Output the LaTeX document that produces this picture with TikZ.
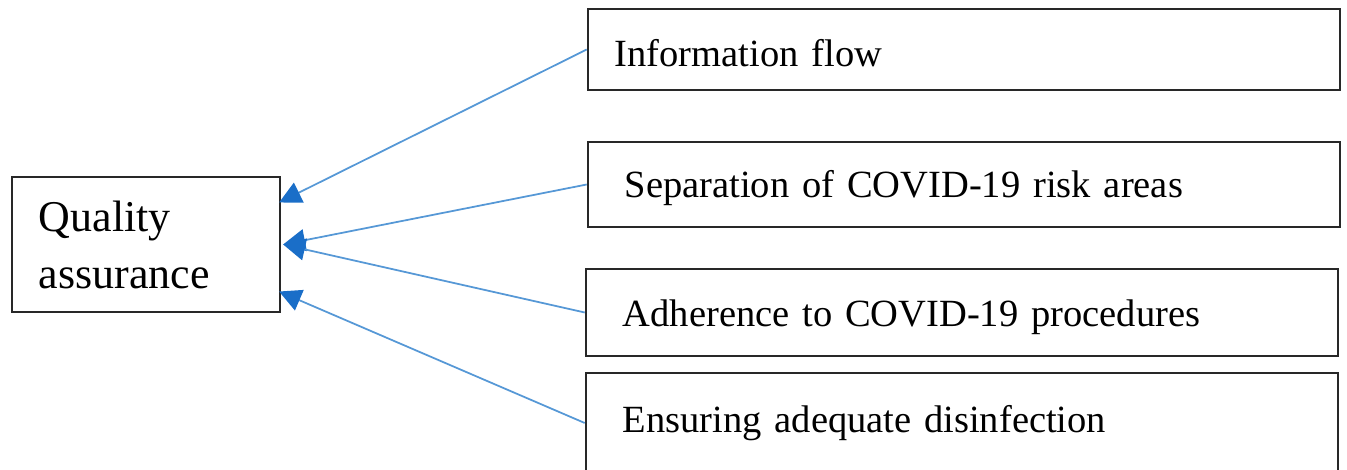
\documentclass[tikz,border=0pt]{standalone}
\usepackage{fontspec}
\setmainfont{Liberation Serif}
\usetikzlibrary{arrows.meta, calc}
\definecolor{linkblue}{RGB}{86,152,214}
\definecolor{tipblue}{RGB}{26,110,200}
\definecolor{boxgray}{RGB}{40,40,40}

\begin{document}
\begin{tikzpicture}[x=0.01cm, y=0.01cm,
    factor/.style={draw=boxgray, line width=0.6pt, minimum width=7.52cm, inner xsep=0.37cm, inner ysep=0pt, text width=6.78cm, align=left, text height=0.29cm, text depth=0pt, font=\fontsize{10.95}{13.5}\selectfont},
    link/.style={linkblue, line width=0.5pt, -{Triangle[length=0.22cm, width=0.22cm, color=tipblue]}}]
    \useasboundingbox (0,0) rectangle (1347,470);

    % Outcome box
    \node[draw=boxgray, line width=0.6pt, minimum width=2.68cm, minimum height=1.35cm, inner xsep=0.27cm, text width=2.14cm, align=left, font=\fontsize{12.5}{16.2}\selectfont] (qa) at (146,225.5) {Quality\\assurance};

    % Contributing factors
    \node[factor, minimum height=0.81cm, inner xsep=0.27cm, text width=6.98cm, text height=0.35cm] (info) at (964,420.5) {Information flow};
    \node[factor, minimum height=0.85cm, text height=0.27cm] (sep) at (964,285.5) {Separation of COVID-19 risk areas};
    \node[factor, minimum height=0.87cm] (adh) at (962,157.5) {Adherence to COVID-19 procedures};
    \node[factor, minimum height=1.00cm, text height=0.2cm] (ens) at (962,47) {Ensuring adequate disinfection};

    % Arrows into the outcome
    \draw[link] (info.west) -- ([xshift=-0.02cm, yshift=0.42cm]qa.east);
    \draw[link] (sep.west) -- ([xshift=0.02cm]qa.east);
    \draw[link] (adh.west) -- ([xshift=0.02cm]qa.east);
    \draw[link] (ens.west) -- ([xshift=-0.02cm, yshift=-0.47cm]qa.east);
\end{tikzpicture}
\end{document}
